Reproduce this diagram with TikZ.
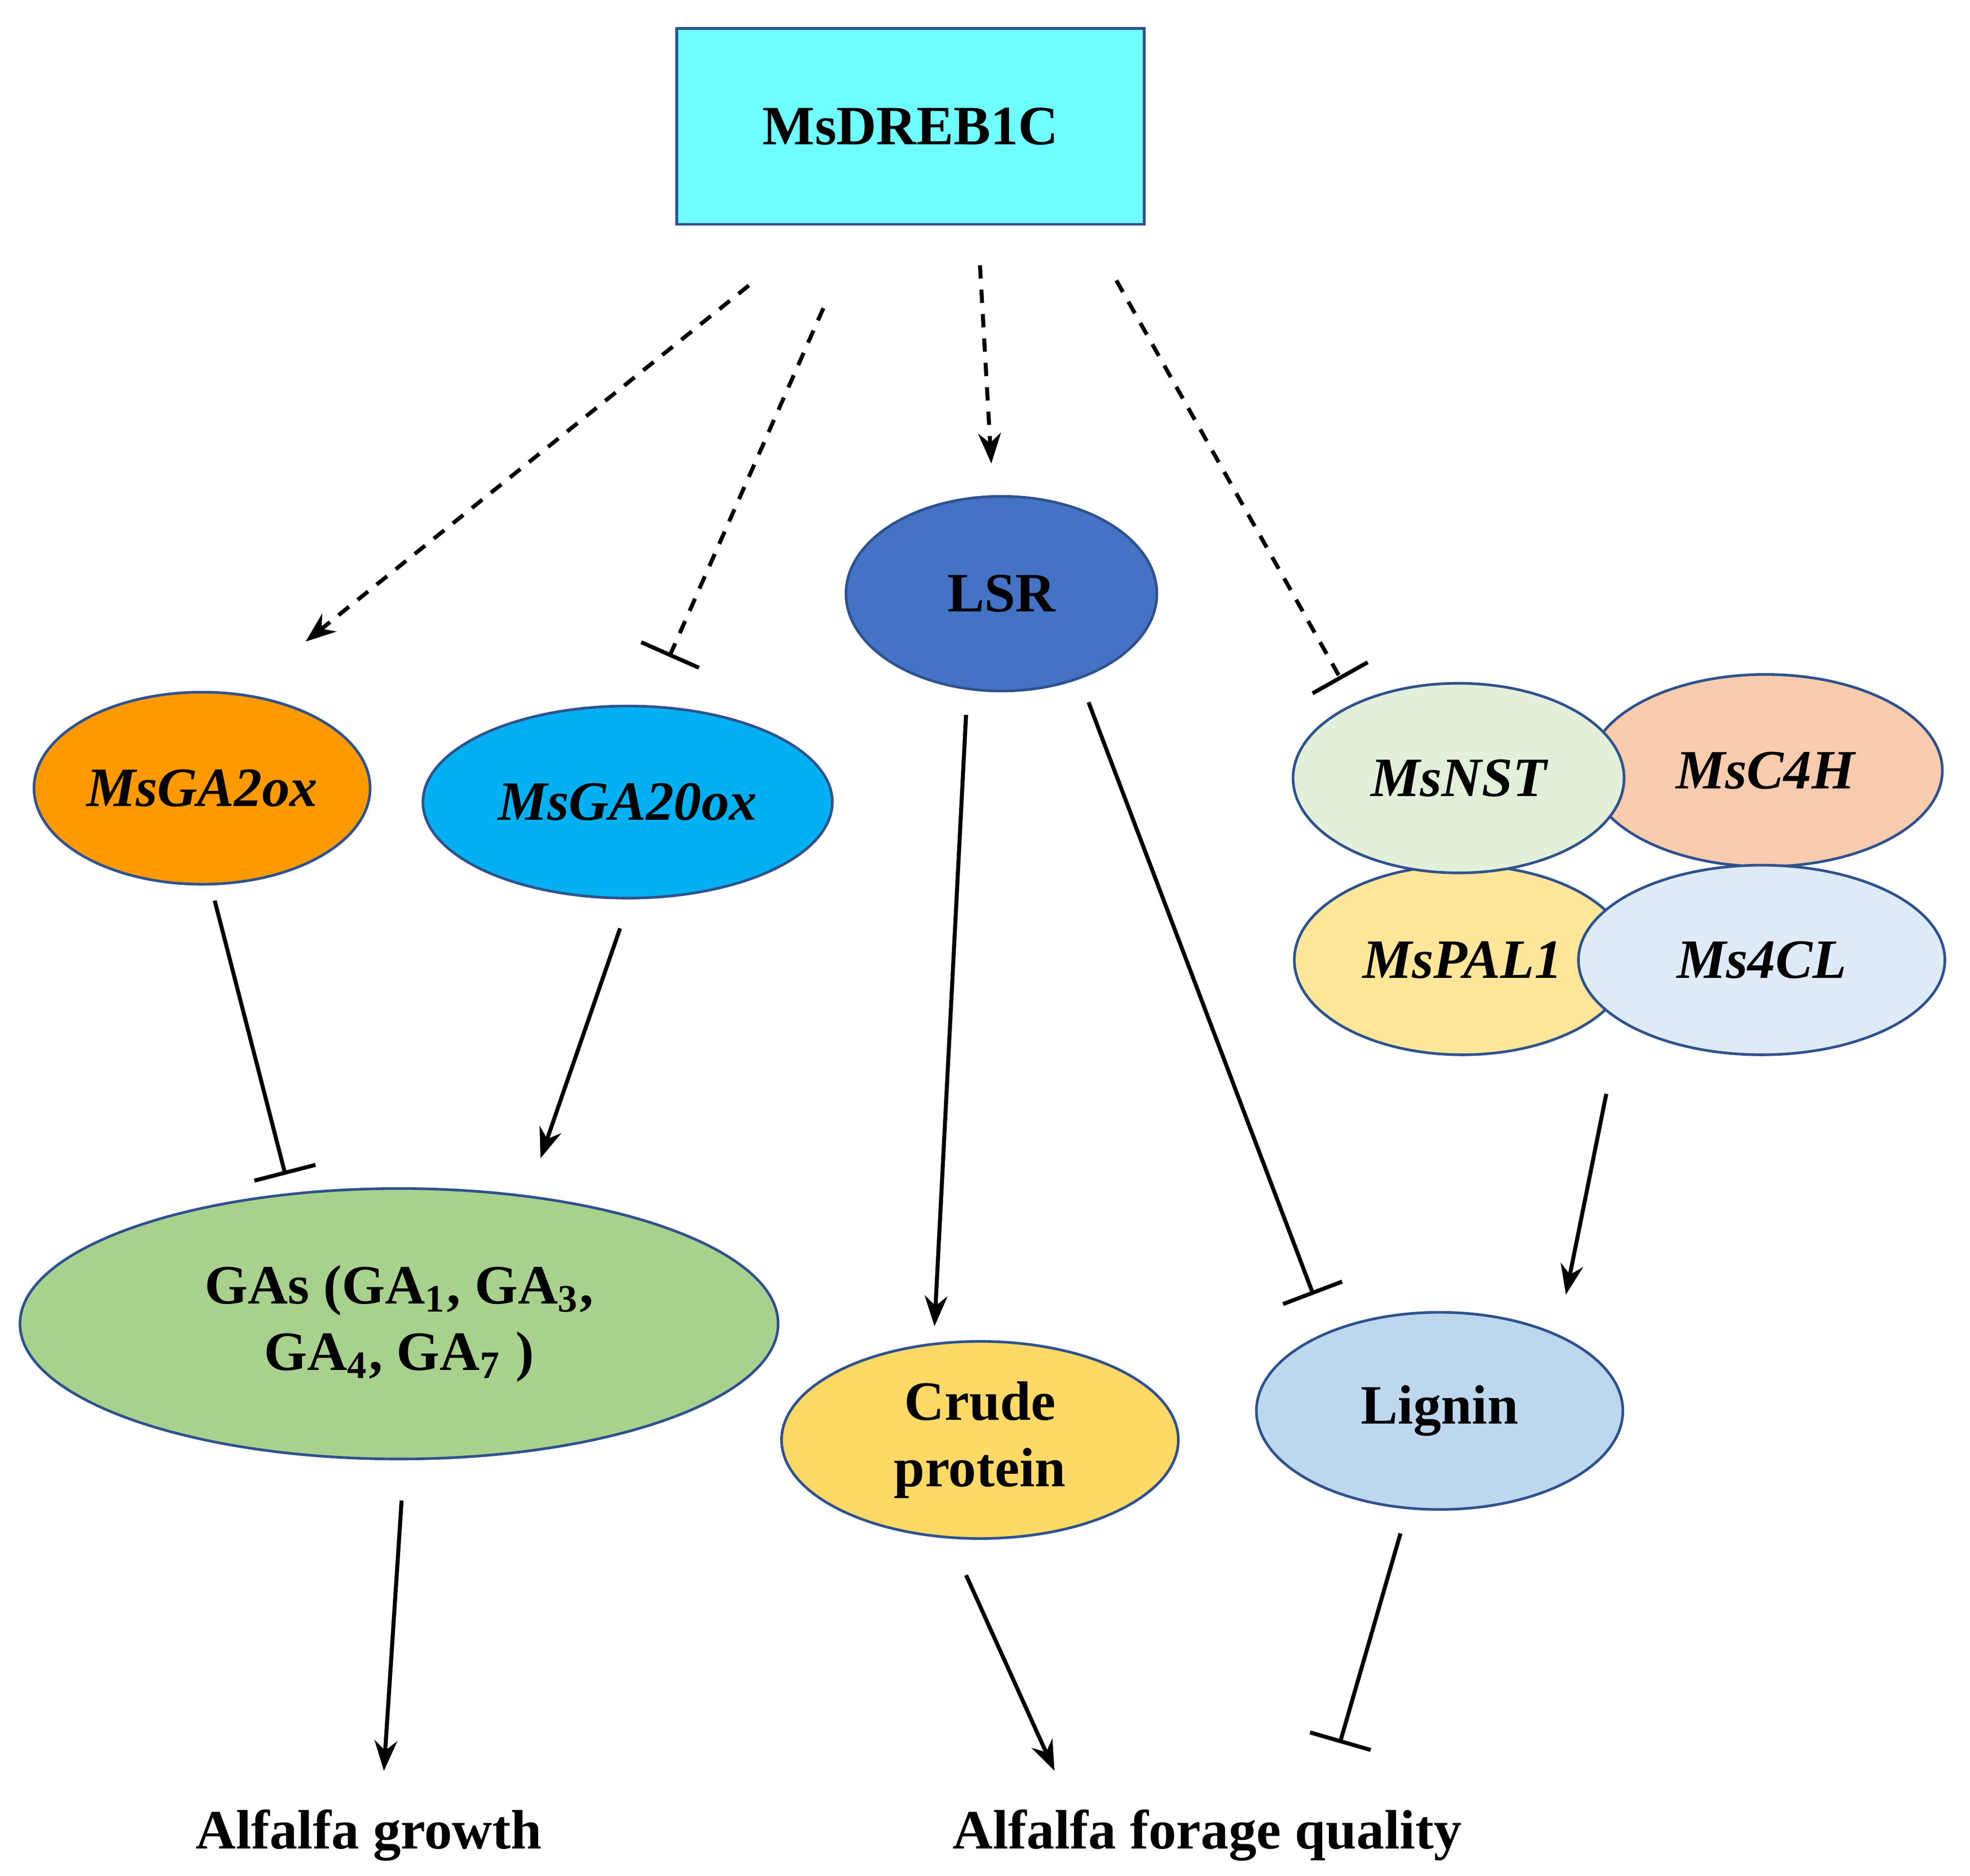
\documentclass[tikz,border=0pt]{standalone}
\usepackage{fontspec}
\setmainfont{Liberation Serif}
\usetikzlibrary{arrows.meta, shapes.geometric}

\definecolor{edgeblue}{HTML}{2F528F}

\tikzset{
  gene/.style={ellipse, draw=edgeblue, line width=0.6pt, inner sep=0pt,
    font=\bfseries\itshape\fontsize{12.5}{15}\selectfont},
  trait/.style={ellipse, draw=edgeblue, line width=0.6pt, inner sep=0pt, align=center,
    font=\bfseries\fontsize{12.5}{15}\selectfont},
  act/.style={line width=0.9pt, -{Stealth[length=2.4mm, width=1.8mm]}},
  inh/.style={line width=0.9pt, -{Bar[width=5mm, line width=0.9pt]}},
  dsh/.style={dash pattern=on 3pt off 2.5pt},
  label/.style={font=\bfseries\fontsize{12.5}{15}\selectfont}
}

\begin{document}
\begin{tikzpicture}[x=0.01cm, y=-0.01cm]
  \useasboundingbox (0,0) rectangle (1560,1485);

  % regulator
  \node[draw=edgeblue, line width=0.6pt, fill={rgb,255:red,112;green,255;blue,255},
    minimum width=3.7cm, minimum height=1.55cm, label/.try,
    font=\bfseries\fontsize{12.5}{15}\selectfont] (dreb) at (721,100) {MsDREB1C};

  % genes
  \node[gene, fill={rgb,255:red,255;green,153;blue,0}, minimum width=2.66cm, minimum height=1.52cm] (ga2ox) at (160,624) {MsGA2ox};
  \node[gene, fill={rgb,255:red,0;green,176;blue,240}, minimum width=3.24cm, minimum height=1.52cm] (ga20ox) at (497,635) {MsGA20ox};
  \node[trait, fill={rgb,255:red,68;green,114;blue,196}, minimum width=2.46cm, minimum height=1.54cm] (lsr) at (793,470) {LSR};
  \node[gene, fill={rgb,255:red,255;green,230;blue,153}, minimum width=2.66cm, minimum height=1.5cm] (pal) at (1158,760) {MsPAL1};
  \node[gene, fill={rgb,255:red,248;green,203;blue,173}, minimum width=2.8cm, minimum height=1.52cm] (c4h) at (1398,610) {MsC4H};
  \node[gene, fill={rgb,255:red,222;green,235;blue,247}, minimum width=2.9cm, minimum height=1.5cm] (cl) at (1395,760) {Ms4CL};
  \node[gene, fill={rgb,255:red,226;green,240;blue,217}, minimum width=2.62cm, minimum height=1.5cm] (nst) at (1155,616) {MsNST};

  % products
  \node[trait, fill={rgb,255:red,169;green,209;blue,142}, minimum width=6cm, minimum height=2.14cm] (gas) at (316,1048)
    {GAs (GA\textsubscript{1}, GA\textsubscript{3},\\ GA\textsubscript{4}, GA\textsubscript{7} )};
  \node[trait, fill={rgb,255:red,255;green,217;blue,102}, minimum width=3.14cm, minimum height=1.56cm] (cp) at (776,1140) {Crude\\protein};
  \node[trait, fill={rgb,255:red,189;green,215;blue,238}, minimum width=2.9cm, minimum height=1.56cm] (lig) at (1140,1117) {Lignin};

  \node[label] (growth) at (292,1453) {Alfalfa growth};
  \node[label] (quality) at (956,1453) {Alfalfa forage quality};

  % connector ends
  \coordinate (d1s) at (593,226);  \coordinate (d1e) at (242,508);
  \coordinate (d2s) at (652,244);  \coordinate (d2e) at (530,520);
  \coordinate (d3s) at (776,210);  \coordinate (d3e) at (785,367);
  \coordinate (d4s) at (884,222);  \coordinate (d4e) at (1062,538);
  \coordinate (a1s) at (170,713);  \coordinate (a1e) at (226,930);
  \coordinate (a2s) at (491,735);  \coordinate (a2e) at (428,917);
  \coordinate (a3s) at (765,566);  \coordinate (a3e) at (740,1050);
  \coordinate (a4s) at (862,556);  \coordinate (a4e) at (1040,1025);
  \coordinate (a5s) at (1272,866); \coordinate (a5e) at (1240,1025);
  \coordinate (a6s) at (318,1188); \coordinate (a6e) at (304,1402);
  \coordinate (a7s) at (765,1247); \coordinate (a7e) at (835,1402);
  \coordinate (a8s) at (1109,1214); \coordinate (a8e) at (1061,1380);

  % dashed links from MsDREB1C
  \draw[act, dsh] (d1s) -- (d1e);
  \draw[inh, dsh] (d2s) -- (d2e);
  \draw[act, dsh] (d3s) -- (d3e);
  \draw[inh, dsh] (d4s) -- (d4e);

  % solid links
  \draw[inh] (a1s) -- (a1e);
  \draw[act] (a2s) -- (a2e);
  \draw[act] (a3s) -- (a3e);
  \draw[inh] (a4s) -- (a4e);
  \draw[act] (a5s) -- (a5e);
  \draw[act] (a6s) -- (a6e);
  \draw[act] (a7s) -- (a7e);
  \draw[inh] (a8s) -- (a8e);
\end{tikzpicture}
\end{document}
